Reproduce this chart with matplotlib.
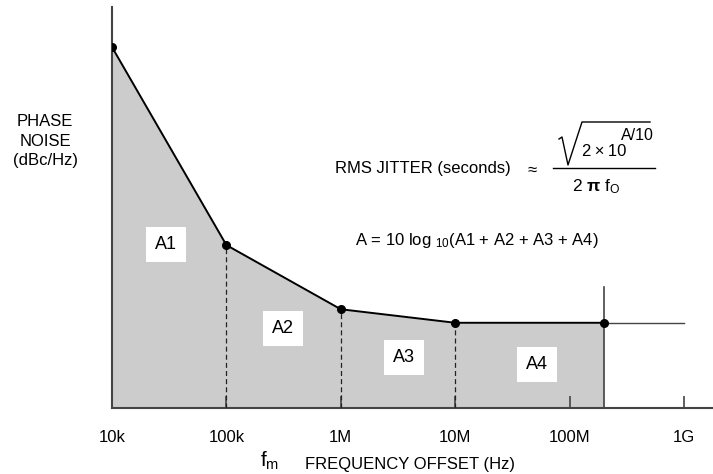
import numpy as np
import matplotlib.pyplot as plt
from matplotlib.lines import Line2D

plt.rcParams['font.family'] = ['Liberation Sans', 'DejaVu Sans']
plt.rcParams['mathtext.fontset'] = 'custom'
plt.rcParams['mathtext.rm'] = 'Liberation Sans'
plt.rcParams['mathtext.it'] = 'Liberation Sans'
plt.rcParams['mathtext.bf'] = 'Liberation Sans:bold'

# piecewise phase-noise profile (offset in Hz, level in dBc/Hz)
freq = [1e4, 1e5, 1e6, 1e7, 2e8]
noise = [-88.0, -127.5, -140.3, -143.0, -143.0]

tick_freqs = [1e4, 1e5, 1e6, 1e7, 1e8, 1e9]
tick_labels = ["10k", "100k", "1M", "10M", "100M", "1G"]

region_names = ["A1", "A2", "A3", "A4"]
region_x = [2.97e4, 3.1e5, 3.6e6, 5.2e7]
region_y = [-127.3, -144.1, -150.0, -151.4]

W, H = 713, 474
fig = plt.figure(figsize=(W / 100, H / 100), dpi=100)
ax = fig.add_axes([112 / W, 66 / H, (W - 112) / W, (408 - 7) / H])

ax.set_xscale('log')
ax.set_xlim(1e4, 10 ** (4 + (W - 112) / 114.4))
ax.set_ylim(-160, -80)

grey = '#444444'

# shaded area under the curve
ax.fill_between(freq, noise, -160, color='#cccccc', lw=0)
ax.plot(freq, noise, color='black', lw=1.4, marker='o', ms=5.5, zorder=4)

# dashed dividers between integration regions
for f, n in zip(freq[1:4], noise[1:4]):
    ax.plot([f, f], [-160, n], color='#222222', lw=0.9, ls=(0, (4, 2.5)), zorder=3)

# right edge of the integration band and flat continuation
ax.plot([freq[-1], freq[-1]], [-160, noise[-1] + 7.2], color=grey, lw=1.2, zorder=3)
ax.plot([freq[-1], 1e9], [noise[-1], noise[-1]], color=grey, lw=1.0, zorder=3)

for name, x, y in zip(region_names, region_x, region_y):
    ax.text(x, y, name, ha='center', va='center', fontsize=13,
            bbox=dict(boxstyle='square,pad=0.5', fc='white', ec='none'), zorder=5)

for s in ['top', 'right']:
    ax.spines[s].set_visible(False)
for s in ['left', 'bottom']:
    ax.spines[s].set_color(grey)
    ax.spines[s].set_linewidth(1.5)

ax.set_xticks(tick_freqs)
ax.set_xticklabels(tick_labels, fontsize=12)
ax.xaxis.set_minor_locator(plt.NullLocator())
ax.tick_params(axis='x', direction='in', length=9, width=1.2, color=grey, pad=16)
ax.set_yticks([])


def ftext(px, py, s, **kw):
    fig.text(px / W, 1 - py / H, s, **kw)


def fline(xs, ys, **kw):
    fig.add_artist(Line2D([x / W for x in xs], [1 - y / H for y in ys], **kw))


ftext(45, 122, "PHASE", ha='center', va='center', fontsize=12)
ftext(45, 142, "NOISE", ha='center', va='center', fontsize=12)
ftext(45, 161, "(dBc/Hz)", ha='center', va='center', fontsize=12)

ftext(270, 461, r"$\mathregular{f_m}$", ha='center', va='center', fontsize=15)
ftext(305, 464, "FREQUENCY OFFSET (Hz)", ha='left', va='center', fontsize=12)

# jitter formula: text, radical sign and fraction bar
ftext(335, 168, "RMS JITTER (seconds)", ha='left', va='center', fontsize=12)
ftext(532, 169, r"$\approx$", ha='center', va='center', fontsize=12)
fline([559, 562, 568, 582, 650], [139, 137, 165, 122, 122], color='black', lw=1.0)
ftext(582, 151, "2\u2009\u00d7\u200910", ha='left', va='center', fontsize=12)
ftext(621, 136, "A/10", ha='left', va='center', fontsize=11.5)
fline([553, 655], [168, 168], color='black', lw=1.0)
ftext(596, 187, r"$\mathregular{2\ \mathbf{\pi}\ f_O}$", ha='center', va='center', fontsize=12.5)

ftext(355, 240, r"A = 10 log $\mathregular{_{10}}$(A1 + A2 + A3 + A4)",
      ha='left', va='center', fontsize=12)

fig.savefig('out.png', dpi=100)
